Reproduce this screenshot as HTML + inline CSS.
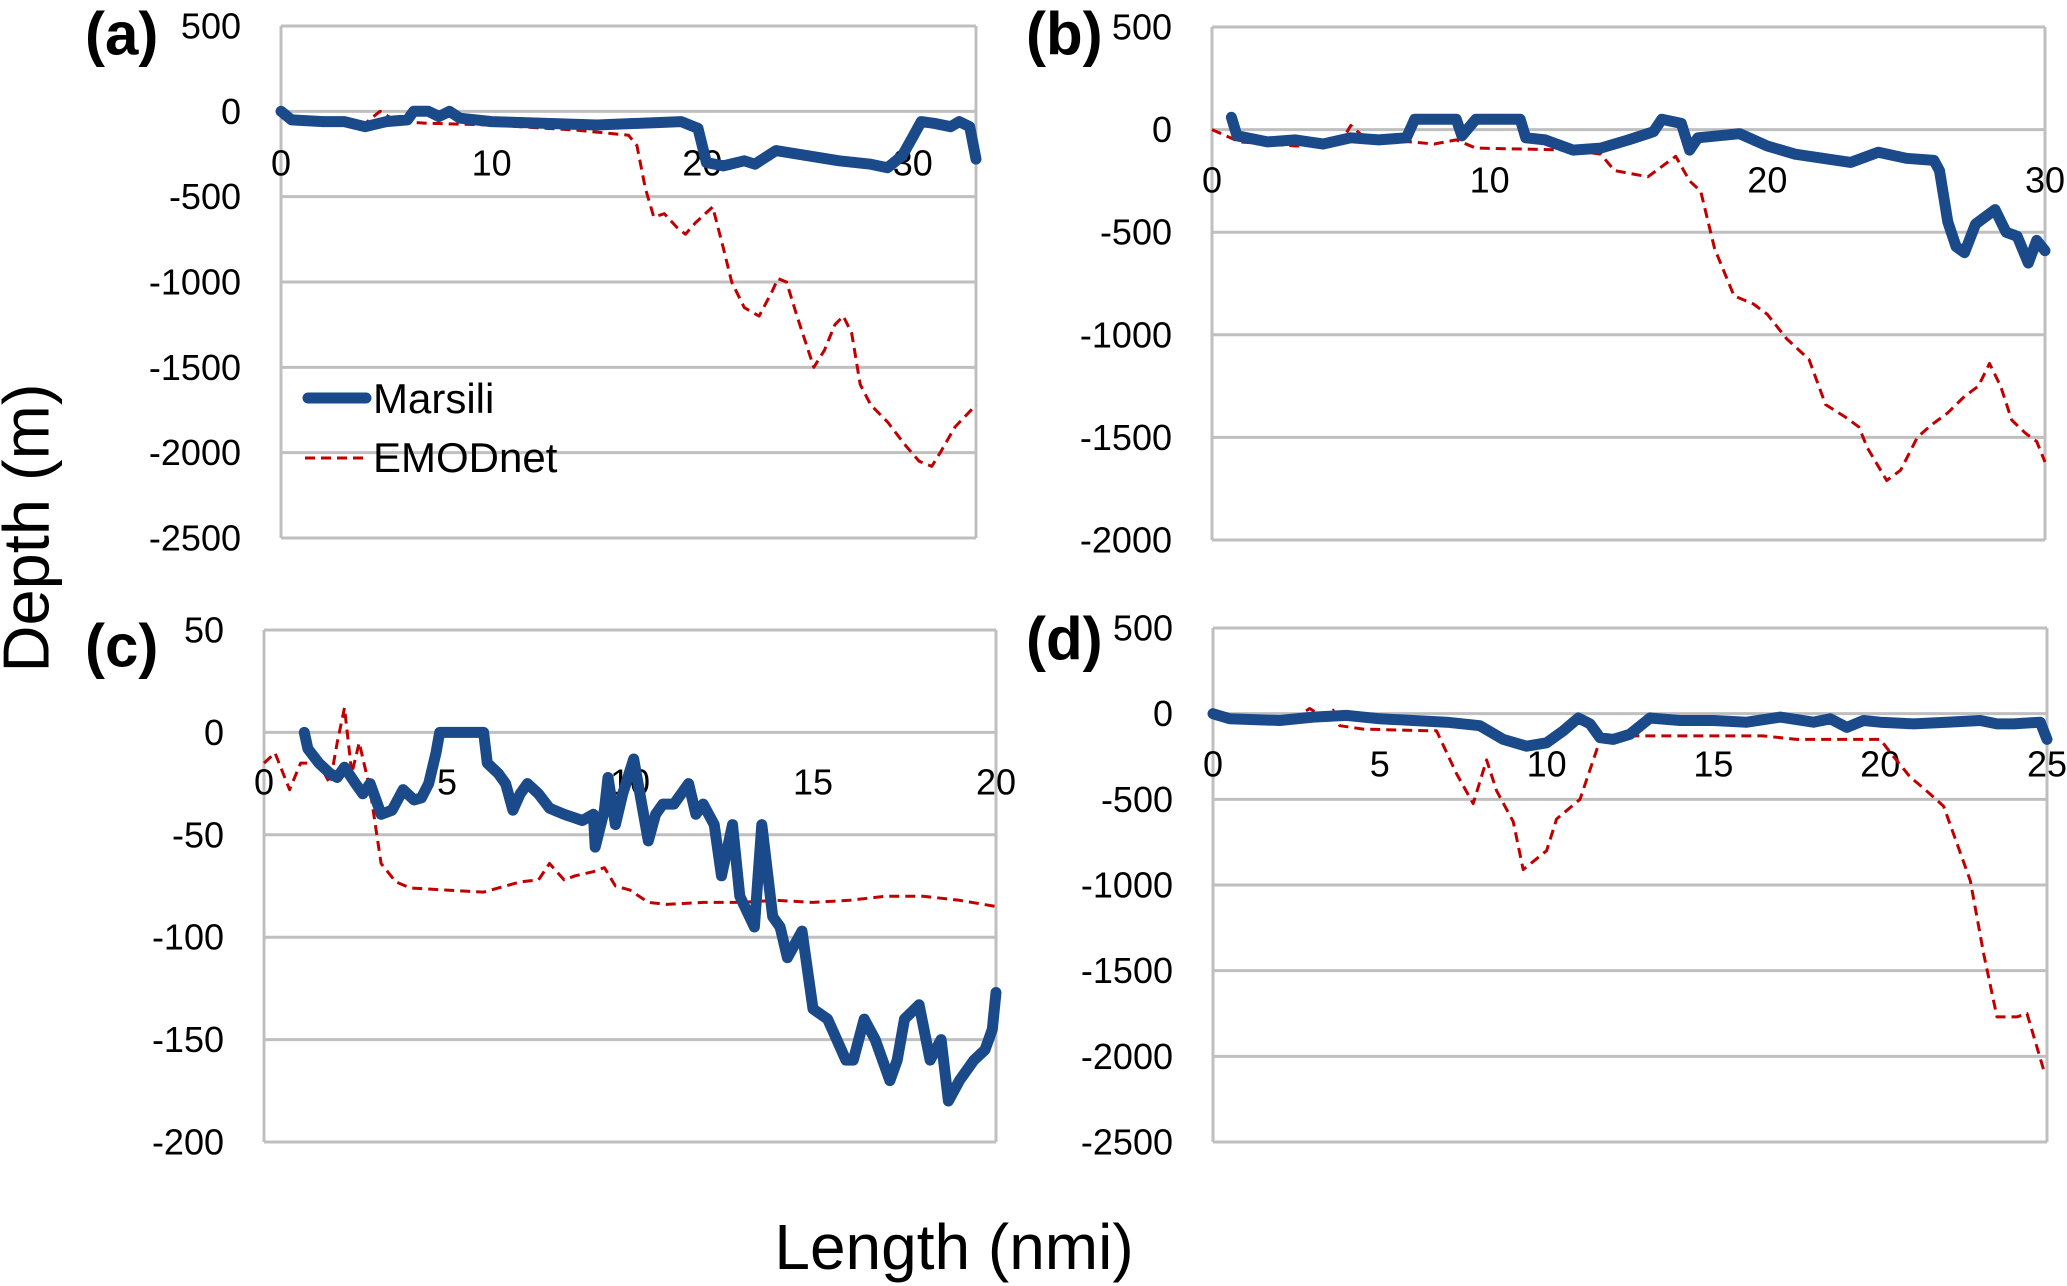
<!DOCTYPE html>
<html><head><meta charset="utf-8"><style>
html,body{margin:0;padding:0;background:#fff;overflow:hidden;}
svg{display:block;font-family:"Liberation Sans",Arial,sans-serif;}
</style></head><body>
<svg id="fig" width="2067" height="1286" viewBox="0 0 2067 1286">
<text x="26" y="528" font-size="65" text-anchor="middle" dominant-baseline="central" transform="rotate(-90 26 528)">Depth (m)</text>
<text x="954" y="1247" font-size="64" text-anchor="middle" dominant-baseline="central">Length (nmi)</text>
</svg>
<script>
// ---- Panel (a) data ----
const aMarsiliX = [0,0.5,2,3,4,5,6,6.3,7,7.5,8,8.5,10,15,19,19.8,20.2,21,22,22.5,23.5,25,26.5,28,28.8,29.5,30,30.4,31,31.8,32.2,32.7,33];
const aMarsiliY = [0,-50,-60,-60,-90,-60,-50,0,0,-30,0,-40,-60,-80,-60,-100,-300,-320,-290,-310,-230,-260,-290,-310,-330,-260,-150,-60,-70,-90,-60,-90,-280];
const aEmodX = [0,1,4,4.7,5.5,7,10,14,16.5,16.9,17.3,17.7,18.2,18.8,19.2,19.7,20.5,21,21.4,22,22.7,23.3,23.6,24,24.5,25.3,25.8,26.3,26.7,27.1,27.5,28,28.8,29.6,30.3,30.9,31.3,32,33];
const aEmodY = [-20,-60,-70,0,-60,-70,-80,-110,-140,-200,-450,-620,-600,-680,-720,-650,-560,-800,-1000,-1150,-1200,-1060,-980,-1000,-1200,-1500,-1400,-1250,-1200,-1300,-1600,-1720,-1820,-1950,-2050,-2080,-2000,-1850,-1720];
const aYTicks = [500,0,-500,-1000,-1500,-2000,-2500];
const aXTicks = [0,10,20,30];
// ---- Panel (b) data ----
const bMarsiliX = [0.7,0.9,2,3,4,5,6,7,7.3,8.8,9,9.5,11.1,11.3,12,13,14,15,15.9,16.2,16.9,17.2,17.5,19,20,21,22,23,24,25,26,26.2,26.5,26.8,27.1,27.5,27.9,28.2,28.6,29,29.4,29.7,30];
const bMarsiliY = [60,-30,-60,-50,-70,-40,-50,-40,50,50,-30,50,50,-40,-50,-100,-90,-50,-10,50,30,-100,-40,-20,-80,-120,-140,-160,-110,-140,-150,-200,-450,-570,-600,-460,-420,-390,-500,-520,-650,-540,-590];
const bEmodX = [0,1,3,4.6,5,5.5,8,8.8,9.5,13,14,14.5,15.7,16.7,17.2,17.6,18.1,18.8,19.5,20,20.7,21.5,22.1,22.8,23.3,23.6,24.3,24.8,25.4,25.9,26.5,27.1,27.6,28,28.4,28.8,29.3,29.7,30];
const bEmodY = [0,-60,-80,-70,20,-40,-70,-50,-90,-100,-120,-200,-230,-130,-250,-300,-580,-810,-850,-900,-1020,-1120,-1340,-1400,-1450,-1550,-1710,-1660,-1500,-1440,-1380,-1300,-1250,-1140,-1250,-1415,-1480,-1520,-1620];
const bYTicks = [500,0,-500,-1000,-1500,-2000];
const bXTicks = [0,10,20,30];
// ---- Panel (c) data ----
const cMarsiliX = [1.1,1.2,1.5,1.8,2,2.2,2.5,2.7,2.9,3.1,3.2,3.5,3.8,4.1,4.3,4.5,4.7,4.8,6,6.1,6.4,6.6,6.8,7,7.2,7.5,7.8,8.2,8.7,9,9.05,9.3,9.4,9.6,9.8,10.1,10.5,10.7,10.9,11.2,11.6,11.8,12,12.3,12.5,12.8,13,13.4,13.6,13.9,14.1,14.3,14.7,15,15.4,15.9,16.1,16.4,16.7,17.1,17.3,17.5,17.9,18.2,18.5,18.7,19,19.4,19.7,19.9,20];
const cMarsiliY = [0,-8,-15,-20,-22,-17,-25,-30,-25,-35,-40,-38,-28,-33,-32,-25,-10,0,0,-15,-20,-25,-38,-30,-25,-30,-37,-40,-43,-40,-56,-38,-22,-45,-30,-13,-53,-40,-35,-35,-25,-40,-35,-45,-70,-45,-80,-95,-45,-90,-95,-110,-97,-135,-140,-160,-160,-140,-150,-170,-160,-140,-133,-160,-150,-180,-170,-160,-155,-145,-127];
const cEmodX = [0,0.3,0.7,1,1.5,1.8,2,2.2,2.4,2.6,2.9,3.2,3.6,4,5,6,7,7.5,7.8,8.2,8.5,9,9.3,9.6,10,10.5,11,12,13,14,15,16,17,18,19,20];
const cEmodY = [-15,-10,-28,-15,-15,-25,-5,12,-20,-5,-28,-64,-73,-76,-77,-78,-73,-72,-64,-72,-70,-68,-66,-75,-77,-83,-84,-83,-83,-82,-83,-82,-80,-80,-82,-85];
const cYTicks = [50,0,-50,-100,-150,-200];
const cXTicks = [0,5,10,15,20];
// ---- Panel (d) data ----
const dMarsiliX = [0,0.5,2,3,4,5,6,7,8,8.7,9.4,10,10.5,10.95,11.3,11.6,12,12.5,13.1,14,15,16,17,18,18.5,19,19.5,20,21,22,23,23.5,24,24.8,25];
const dMarsiliY = [0,-30,-40,-20,-10,-30,-40,-50,-70,-150,-190,-170,-100,-25,-60,-140,-150,-120,-25,-40,-40,-50,-20,-50,-30,-80,-40,-50,-60,-50,-40,-60,-60,-50,-150];
const dEmodX = [0,0.5,2,2.5,2.9,3.3,3.6,3.8,4.5,6.5,6.7,7.3,7.8,8.2,8.5,9,9.3,10,10.3,11,11.6,12.5,15,16.5,17.5,20,20.4,20.9,21.3,21.9,22.7,23.1,23.5,24.1,24.4,24.9,25];
const dEmodY = [0,-30,-40,-20,30,-20,20,-70,-90,-100,-100,-350,-525,-270,-450,-630,-910,-800,-615,-500,-155,-130,-130,-130,-150,-150,-250,-370,-435,-540,-975,-1400,-1770,-1770,-1750,-2080,-2100];
const dYTicks = [500,0,-500,-1000,-1500,-2000,-2500];
const dXTicks = [0,5,10,15,20,25];

const NS = 'http://www.w3.org/2000/svg';
const svg = document.getElementById('fig');
function mk(tag, attrs){const e=document.createElementNS(NS,tag);for(const k in attrs)e.setAttribute(k,attrs[k]);return e;}
function txt(str,x,y,size,anchor,bold,base){
  const t=mk('text',{x:x,y:y,'font-size':size,'text-anchor':anchor});
  if(!base)t.setAttribute('dominant-baseline','central');
  if(bold)t.setAttribute('font-weight','bold');
  t.textContent=str;return t;
}

function panel(cfg){
  const g=mk('g',{});
  
  
  svg.appendChild(g);
  const xs=v=>cfg.L+(v-cfg.xmin)/(cfg.xmax-cfg.xmin)*(cfg.R-cfg.L);
  const ys=v=>cfg.T+(cfg.ymax-v)/(cfg.ymax-cfg.ymin)*(cfg.B-cfg.T);
  [cfg.L,cfg.R].forEach((x,i)=>{
    const l=mk('line',{x1:x,x2:x,y1:cfg.T,y2:cfg.B,stroke:'#bfbfbf','stroke-width':3});
    
    
    g.appendChild(l);
  });
  cfg.yt.forEach(v=>{
    const y=ys(v);
    const l=mk('line',{x1:cfg.L,x2:cfg.R,y1:y,y2:y,stroke:'#bfbfbf','stroke-width':3});
    
    
    g.appendChild(l);
    const t=txt(String(v),cfg.L-40,y,36,'end',false);
    
    
    g.appendChild(t);
  });
  cfg.xt.forEach(v=>{
    const t=txt(String(v),xs(v),cfg.xly,36,'middle',false);
    
    
    g.appendChild(t);
  });
  const pts=(X,Y)=>X.map((x,i)=>xs(x).toFixed(1)+','+ys(Y[i]).toFixed(1)).join(' ');
  const e=mk('polyline',{points:pts(cfg.ex,cfg.ey),fill:'none',stroke:'#c00000','stroke-width':3,'stroke-dasharray':'10 6','stroke-linejoin':'round'});
  
  
  g.appendChild(e);
  const m=mk('polyline',{points:pts(cfg.mx,cfg.my),fill:'none',stroke:'#1a4a8a','stroke-width':11,'stroke-linejoin':'round','stroke-linecap':'round'});
  
  
  g.appendChild(m);
  const lab=txt('('+cfg.id+')',cfg.lx,cfg.ly,60,'start',true);
  
  
  g.appendChild(lab);
}

panel({id:'a',L:281,R:976,T:26,B:538,xmin:0,xmax:33,ymax:500,ymin:-2500,yt:aYTicks,xt:aXTicks,xly:163,mx:aMarsiliX,my:aMarsiliY,ex:aEmodX,ey:aEmodY,lx:85,ly:34});
panel({id:'b',L:1212,R:2045,T:27,B:540,xmin:0,xmax:30,ymax:500,ymin:-2000,yt:bYTicks,xt:bXTicks,xly:180,mx:bMarsiliX,my:bMarsiliY,ex:bEmodX,ey:bEmodY,lx:1026,ly:34});
panel({id:'c',L:264,R:996,T:630,B:1142,xmin:0,xmax:20,ymax:50,ymin:-200,yt:cYTicks,xt:cXTicks,xly:782,mx:cMarsiliX,my:cMarsiliY,ex:cEmodX,ey:cEmodY,lx:85,ly:646});
panel({id:'d',L:1213,R:2047,T:628,B:1142,xmin:0,xmax:25,ymax:500,ymin:-2500,yt:dYTicks,xt:dXTicks,xly:764,mx:dMarsiliX,my:dMarsiliY,ex:dEmodX,ey:dEmodY,lx:1026,ly:639});

const lg=mk('g',{});


svg.appendChild(lg);
const l1=mk('line',{x1:308,x2:366,y1:398,y2:398,stroke:'#1a4a8a','stroke-width':11,'stroke-linecap':'round'});


lg.appendChild(l1);
const t1=txt('Marsili',373,413,42,'start',false,true);


lg.appendChild(t1);
const l2=mk('line',{x1:305,x2:368,y1:458,y2:458,stroke:'#c00000','stroke-width':3,'stroke-dasharray':'10 6'});


lg.appendChild(l2);
const t2=txt('EMODnet',373,472,42,'start',false,true);


lg.appendChild(t2);
</script>
</body></html>
